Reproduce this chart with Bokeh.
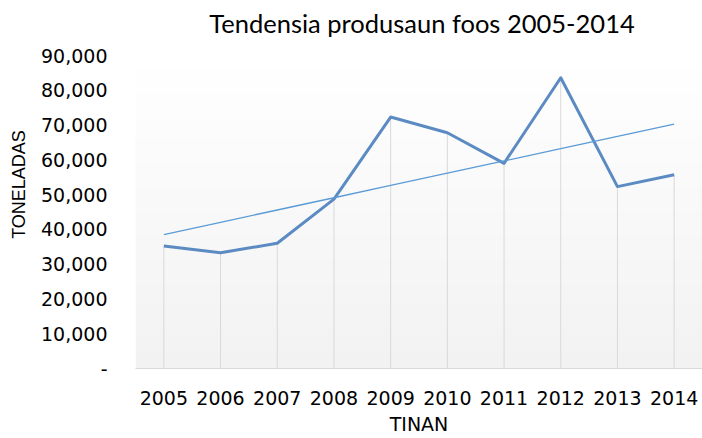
import numpy as np
from bokeh.plotting import figure
from bokeh.models import Range1d, FixedTicker, NumeralTickFormatter, ColumnDataSource, Title, Label
from bokeh.embed import file_html
from bokeh.resources import INLINE

# Data
years = [2005, 2006, 2007, 2008, 2009, 2010, 2011, 2012, 2013, 2014]
production = [35200, 33300, 36000, 48700, 72300, 67800, 59000, 83600, 52300, 55700]
y_ticks = [0, 10000, 20000, 30000, 40000, 50000, 60000, 70000, 80000, 90000]

title_text = "Tendensia produsaun foos 2005-2014"
x_label = "TINAN"
y_label = "TONELADAS"

# Linear trend line (least squares)
slope, intercept = np.polyfit(years, production, 1)
trend = [slope * yr + intercept for yr in years]

W, H = 702, 438
BOTTOM, LEFT = 70, 135
HEADROOM = 55          # px of white space above the 90,000 line (room for the title)
frame_h = H - BOTTOM
y_top = y_ticks[-1] * frame_h / (frame_h - HEADROOM)

p = figure(width=W, height=H, output_backend="svg", toolbar_location=None, title=None,
           x_range=Range1d(years[0] - 0.5, years[-1] + 0.5),
           y_range=Range1d(y_ticks[0], y_top),
           min_border_left=LEFT, min_border_right=0, min_border_top=0, min_border_bottom=BOTTOM)

# Gradient plot-area background (white at top to light gray at bottom)
n = 64
rgba = np.zeros((n, 1, 4), dtype=np.uint8)
for i in range(n):
    v = int(round(242 + (255 - 242) * i / (n - 1)))
    rgba[i, 0] = [v, v, v, 255]
img = rgba.view(dtype=np.uint32).reshape((n, 1))
p.image_rgba(image=[img], x=years[0] - 0.5, y=y_ticks[0], dw=len(years), dh=y_ticks[-1] - y_ticks[0])

src = ColumnDataSource(dict(x=years, y=production, z=[0] * len(years)))
p.segment(x0="x", y0="z", x1="x", y1="y", source=src, line_color="#d9d9d9", line_width=1)
p.line(x="x", y="y", source=src, line_color="#5b8bc2", line_width=3, line_join="round")
p.line(x=years, y=trend, line_color="#5b9bd5", line_width=1.3)

# Chart title
p.add_layout(Label(x=(years[0] + years[-1]) / 2, y=y_ticks[-1], x_offset=3, y_offset=33,
                   text=title_text, text_font="Lato", text_font_size="25.5px", text_color="#000000",
                   text_align="center", text_baseline="middle"))

p.xgrid.grid_line_color = None
p.ygrid.grid_line_color = None
p.outline_line_color = None
p.background_fill_color = "white"
p.border_fill_color = "white"

xa = p.xaxis[0]
xa.ticker = FixedTicker(ticks=years)
xa.axis_line_color = "#d9d9d9"
xa.major_tick_line_color = None
xa.minor_tick_line_color = None
xa.major_label_text_font = "DejaVu Sans"
xa.major_label_text_font_size = "19px"
xa.major_label_text_color = "#000000"
xa.major_label_standoff = 16

# x-axis title under the year labels
p.add_layout(Title(text=x_label, align="center", text_font="DejaVu Sans", text_font_size="19px",
                   text_font_style="normal", text_color="#000000", standoff=6), "below")

ya = p.yaxis[0]
ya.ticker = FixedTicker(ticks=y_ticks)
ya.formatter = NumeralTickFormatter(format="0,0")
ya.major_label_overrides = {0: "-"}
ya.axis_line_color = None
ya.major_tick_line_color = None
ya.minor_tick_line_color = None
ya.major_label_text_font = "DejaVu Sans"
ya.major_label_text_font_size = "19px"
ya.major_label_text_color = "#000000"
ya.major_label_standoff = 22
ya.axis_label = y_label
ya.axis_label_text_font = "Liberation Sans"
ya.axis_label_text_font_size = "18px"
ya.axis_label_text_font_style = "normal"
ya.axis_label_text_color = "#000000"
ya.axis_label_standoff = 9

open("out.html", "w").write(file_html(p, INLINE))
